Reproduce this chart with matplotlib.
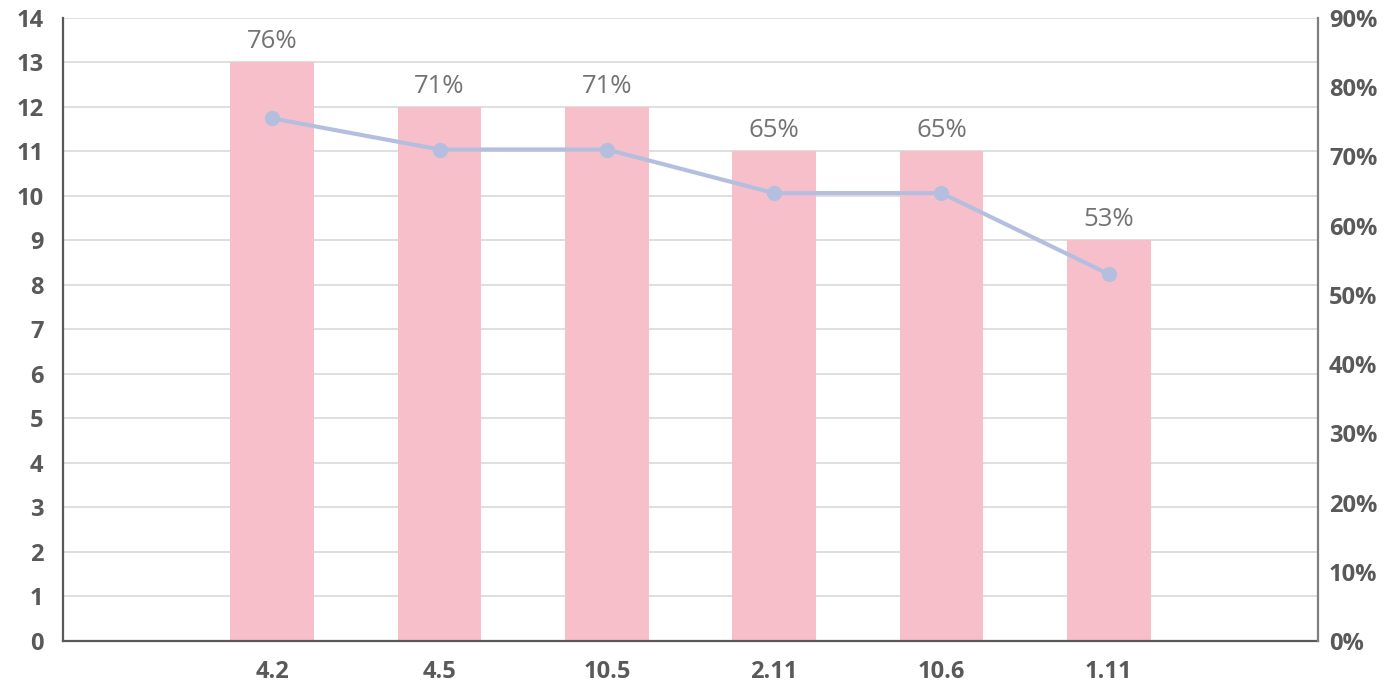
import matplotlib
matplotlib.use("Agg")
import matplotlib.pyplot as plt
from matplotlib.ticker import FuncFormatter

categories = ["4.2", "4.5", "10.5", "2.11", "10.6", "1.11"]
counts = [13, 12, 12, 11, 11, 9]
rates = [75.5, 71.0, 71.0, 64.7, 64.7, 53.0]
rate_labels = ["76%", "71%", "71%", "65%", "65%", "53%"]

BAR_COLOR = "#f7bfca"
LINE_COLOR = "#b4bfe0"
TEXT_COLOR = "#595959"
GRID_COLOR = "#d9d9d9"

plt.rcParams["font.family"] = ["Open Sans", "DejaVu Sans"]

fig = plt.figure(figsize=(13.86, 6.89), dpi=100)
ax = fig.add_axes([0.0455, 0.0697, 0.9054, 0.9042])

x = list(range(len(categories)))

ax.bar(x, counts, width=0.5, color=BAR_COLOR, zorder=2)
ax.set_xlim(-1.25, len(categories) + 0.25)
ax.set_ylim(0, 14)
ax.set_yticks(range(0, 15))
ax.set_xticks(x)
ax.set_xticklabels(categories)
ax.grid(axis="y", color=GRID_COLOR, linewidth=1.2, zorder=0)
ax.set_axisbelow(True)

for s in ["top", "right"]:
    ax.spines[s].set_visible(False)
for s in ["left", "bottom"]:
    ax.spines[s].set_color(TEXT_COLOR)
    ax.spines[s].set_linewidth(1.6)

ax.tick_params(axis="both", length=0, colors=TEXT_COLOR, labelsize=17)
ax.tick_params(axis="x", pad=14)
ax.tick_params(axis="y", pad=14)
for lbl in ax.get_xticklabels() + ax.get_yticklabels():
    lbl.set_fontweight("bold")

for xi, c, lab in zip(x, counts, rate_labels):
    ax.annotate(lab, (xi, c), xytext=(0, 6), textcoords="offset points",
                ha="center", va="bottom", fontsize=18.5, color="#737373")

ax2 = ax.twinx()
ax2.plot(x, rates, color=LINE_COLOR, linewidth=3, marker="o", markersize=10, zorder=3)
ax2.set_ylim(0, 90)
ax2.set_yticks(range(0, 91, 10))
ax2.yaxis.set_major_formatter(FuncFormatter(lambda v, p: f"{int(v)}%"))
ax2.tick_params(axis="y", length=0, colors=TEXT_COLOR, labelsize=17, pad=8)
for lbl in ax2.get_yticklabels():
    lbl.set_fontweight("bold")
for s in ["top", "left", "bottom"]:
    ax2.spines[s].set_visible(False)
ax2.spines["right"].set_color("#7f7f7f")
ax2.spines["right"].set_linewidth(1.6)

fig.savefig("out.png", dpi=100)
